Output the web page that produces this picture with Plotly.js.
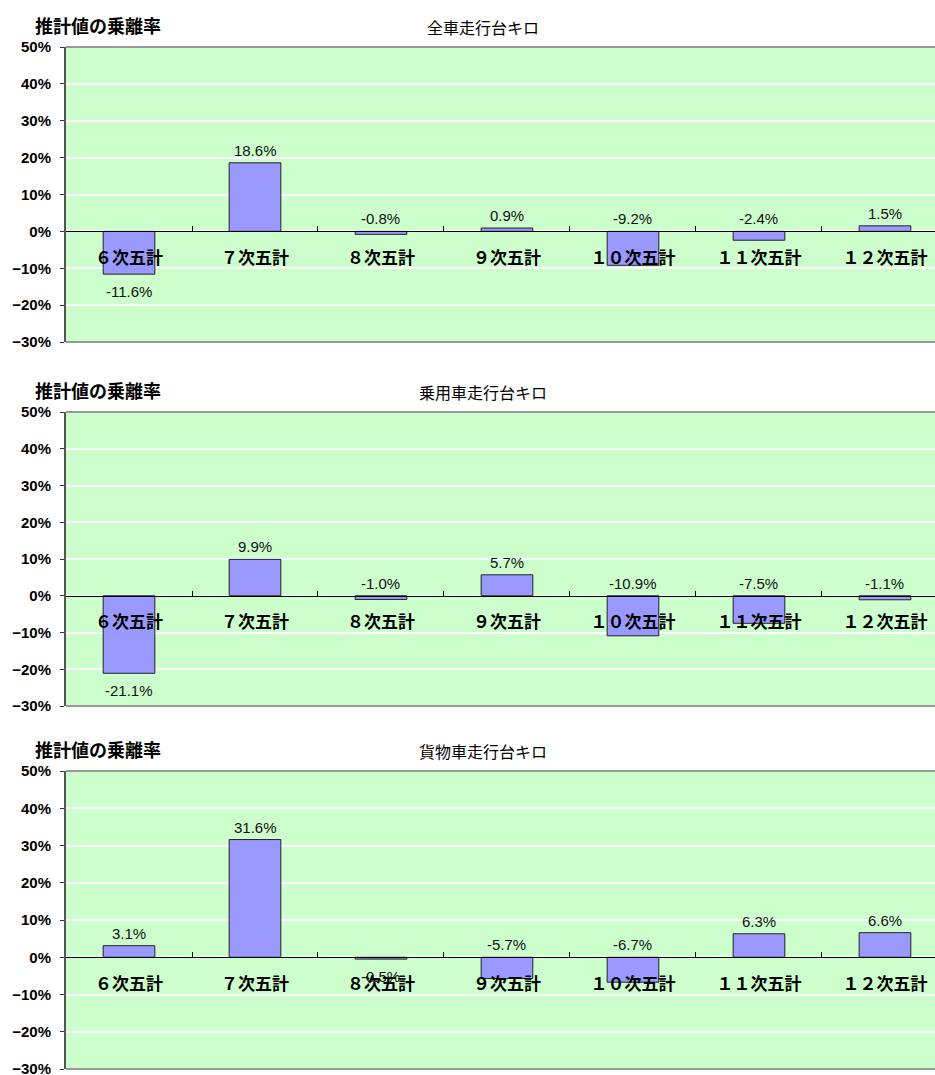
<!DOCTYPE html>
<html lang="ja">
<head>
<meta charset="utf-8">
<title>推計値の乗離率</title>
<script src="https://cdn.plot.ly/plotly-3.0.1.min.js"></script>
<style>
  html, body { margin: 0; padding: 0; background: #fff; overflow: hidden; }
  #chart { width: 935px; height: 1090px; }
</style>
</head>
<body>
<div id="chart"></div>
<script>
// Five-year plan rounds (category axis)
const categories = ['６次五計', '７次五計', '８次五計', '９次五計', '１０次五計', '１１次五計', '１２次五計'];

// Deviation of the estimate (%) for each vehicle class
const allVehicles     = [-11.6, 18.6, -0.8,  0.9,  -9.2, -2.4,  1.5];
const passengerCars   = [-21.1,  9.9, -1.0,  5.7, -10.9, -7.5, -1.1];
const freightVehicles = [  3.1, 31.6, -0.5, -5.7,  -6.7,  6.3,  6.6];

const panelTitles = ['全車走行台キロ', '乗用車走行台キロ', '貨物車走行台キロ'];
const yAxisTitle = '推計値の乗離率';
const yRange = [-30, 50];

// Indices whose value label sits under the bar end (others sit above)
const labelsBelow = [[0], [0], [2]];

// The drawing is a little taller than the window; the page clips the rest
const W = 935, H = 1090;
const plotLeft = 66;
const panelTop = [47, 412, 771];
const panelBottom = [342, 706, 1069];

const series = [allVehicles, passengerCars, freightVehicles];

const cjk = 'Noto Sans CJK JP, Noto Sans CJK SC, sans-serif';
const latin = 'Liberation Sans, Arial, sans-serif';

const data = [];
const layout = {
  width: W, height: H,
  margin: {l: 0, r: 0, t: 0, b: 0},
  paper_bgcolor: '#ffffff',
  plot_bgcolor: '#CCFFCC',
  bargap: 0.59,
  showlegend: false,
  annotations: [],
  shapes: []
};

series.forEach((values, i) => {
  const s = i === 0 ? '' : String(i + 1);
  const yDomain = [(H - panelBottom[i]) / H, (H - panelTop[i]) / H];
  const zeroFrac = yDomain[0] + (0 - yRange[0]) / (yRange[1] - yRange[0]) * (yDomain[1] - yDomain[0]);

  data.push({
    type: 'bar',
    x: categories,
    y: values,
    xaxis: 'x' + s,
    yaxis: 'y' + s,
    marker: {color: '#9999FF', line: {color: '#222222', width: 1}},
    hoverinfo: 'skip'
  });

  // Category axis runs along the zero line, ticks between categories
  layout['xaxis' + s] = {
    type: 'category',
    domain: [plotLeft / W, 1],
    range: [-0.5, 6.397],
    anchor: 'free',
    position: zeroFrac,
    showline: true, linecolor: '#000000', linewidth: 1,
    ticks: 'inside', tickson: 'boundaries', ticklen: 5, tickcolor: '#000000', tickwidth: 1,
    ticklabelstandoff: 11,
    tickfont: {family: cjk, size: 17, color: '#000000', weight: 'bold'},
    showgrid: false, zeroline: false, fixedrange: true
  };

  layout['yaxis' + s] = {
    domain: yDomain,
    range: yRange,
    anchor: 'x' + s,
    tick0: 0, dtick: 10,
    ticksuffix: '%',
    showgrid: true, gridcolor: '#ffffff', gridwidth: 2,
    zeroline: false,
    showline: true, linecolor: '#555555', linewidth: 2,
    ticks: 'outside', ticklen: 4, tickcolor: '#333333',
    ticklabelstandoff: 6,
    tickfont: {family: latin, size: 15, color: '#000000', weight: 'bold'},
    fixedrange: true
  };

  // Top and bottom frame of the plot area
  [0, 1].forEach(yy => {
    layout.shapes.push({
      type: 'line', xref: 'x' + s + ' domain', yref: 'y' + s + ' domain',
      x0: 0, x1: 1, y0: yy, y1: yy,
      line: {color: '#999999', width: 2}
    });
  });

  layout.annotations.push({
    xref: 'paper', yref: 'y' + s + ' domain',
    x: 33 / W, y: 1, xanchor: 'left', yanchor: 'middle', yshift: 22,
    text: yAxisTitle, showarrow: false,
    font: {family: cjk, size: 18, color: '#000000', weight: 'bold'}
  });

  layout.annotations.push({
    xref: 'paper', yref: 'y' + s + ' domain',
    x: 483 / W, y: 1, xanchor: 'center', yanchor: 'middle', yshift: 20,
    text: panelTitles[i], showarrow: false,
    font: {family: cjk, size: 16, color: '#000000'}
  });

  // Value labels
  values.forEach((v, j) => {
    const below = labelsBelow[i].includes(j);
    const ann = {
      xref: 'x' + s, yref: 'y' + s,
      x: categories[j],
      text: v.toFixed(1) + '%',
      showarrow: false,
      font: {family: latin, size: 15, color: '#111111'}
    };
    if (below) {
      ann.y = v; ann.yanchor = 'top'; ann.yshift = -7;
    } else if (v >= 0) {
      ann.y = v; ann.yanchor = 'bottom'; ann.yshift = 2;
    } else {
      ann.y = 0; ann.yanchor = 'bottom'; ann.yshift = 2;
    }
    layout.annotations.push(ann);
  });
});

Plotly.newPlot('chart', data, layout, {displayModeBar: false, staticPlot: true});
</script>
</body>
</html>
